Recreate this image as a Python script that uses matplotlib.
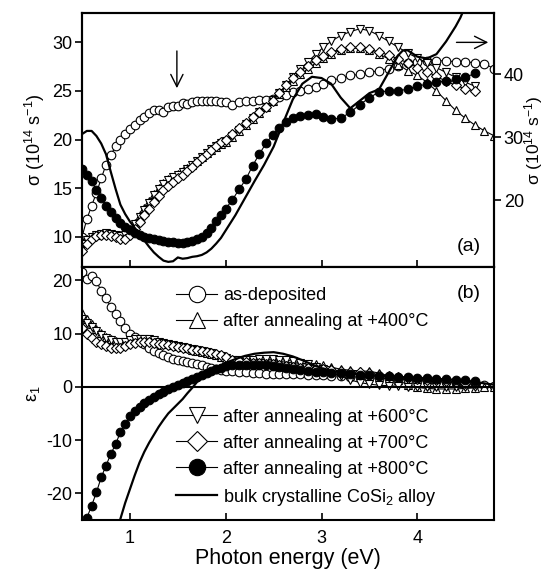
import matplotlib
matplotlib.use("Agg")
import matplotlib.pyplot as plt

plt.rcParams.update({
    "font.family": ["Liberation Sans", "DejaVu Sans"],
    "mathtext.fontset": "custom",
    "mathtext.rm": "Liberation Sans",
    "mathtext.it": "Liberation Sans:italic",
    "font.size": 13,
    "axes.linewidth": 1.5,
    "axes.unicode_minus": False,
})

# photon energy grid (eV) shared by the measured series
energy = [0.50, 0.55, 0.60, 0.65, 0.70, 0.75, 0.80, 0.85, 0.90, 0.95,
          1.00, 1.05, 1.10, 1.15, 1.20, 1.25, 1.30, 1.35, 1.40, 1.45,
          1.50, 1.55, 1.60, 1.65, 1.70, 1.75, 1.80, 1.85, 1.90, 1.95,
          2.00, 2.07, 2.14, 2.21, 2.28, 2.35, 2.42, 2.49, 2.56, 2.63,
          2.70, 2.78, 2.86, 2.94, 3.02, 3.1, 3.2, 3.3, 3.4, 3.5,
          3.6, 3.7, 3.8, 3.9, 4.0, 4.1, 4.2, 4.3, 4.4, 4.5,
          4.6, 4.7, 4.8]

# (a) optical conductivity, 10^14 s^-1
sig_asdep = [10.0, 11.8, 13.2, 14.5, 16.0, 17.4, 18.4, 19.3, 20.0, 20.6,
             21.1, 21.5, 22.0, 22.3, 22.7, 23.0, 23.0, 22.8, 23.3, 23.5,
             23.5, 23.8, 23.7, 23.9, 24.0, 24.0, 24.0, 24.0, 24.0, 23.9,
             23.9, 23.6, 23.9, 24.0, 24.0, 24.1, 24.1, 24.2, 24.4, 24.6,
             24.9, 25.0, 25.2, 25.4, 25.7, 26.1, 26.3, 26.6, 26.7, 26.9,
             27.1, 27.3, 27.6, 27.9, 28.0, 28.1, 28.1, 28.1, 28.0, 28.0,
             27.9, 27.8, 27.3]
sig_400 = [9.6, 9.8, 10.0, 10.2, 10.3, 10.3, 10.3, 10.2, 10.1, 10.3,
           10.8, 11.4, 12.2, 13.0, 13.7, 14.4, 15.0, 15.5, 15.9, 16.2,
           16.5, 16.8, 17.1, 17.4, 17.8, 18.2, 18.6, 18.9, 19.2, 19.5,
           19.8, 20.3, 20.9, 21.5, 22.1, 22.7, 23.3, 24.0, 24.7, 25.4,
           26.0, 26.7, 27.3, 27.9, 28.4, 28.8, 29.2, 29.4, 29.4, 29.2,
           28.8, 28.3, 27.7, 27.1, 26.6, 25.9, 25.0, 24.0, 23.0, 22.2,
           21.5, 20.9, 20.4]
sig_600 = [9.3, 9.7, 10.0, 10.2, 10.3, 10.4, 10.3, 10.2, 10.1, 10.2,
           10.7, 11.3, 12.0, 12.8, 13.5, 14.3, 14.9, 15.4, 15.8, 16.1,
           16.4, 16.7, 17.0, 17.4, 17.8, 18.2, 18.6, 19.0, 19.3, 19.6,
           19.9, 20.4, 21.0, 21.6, 22.2, 22.8, 23.4, 24.1, 24.8, 25.6,
           26.4, 27.3, 28.0, 28.8, 29.5, 30.1, 30.7, 31.1, 31.4, 31.2,
           30.7, 30.1, 29.5, 28.9, 28.4, 27.9, 27.4, 26.9, 26.4, 25.9,
           25.5]
sig_700 = [8.5, 9.3, 9.8, 10.1, 10.2, 10.2, 10.1, 10.0, 9.8, 9.8,
           10.2, 10.8, 11.5, 12.2, 12.9, 13.6, 14.2, 14.8, 15.2, 15.6,
           16.0, 16.4, 16.8, 17.2, 17.7, 18.1, 18.5, 18.9, 19.3, 19.7,
           20.0, 20.6, 21.2, 21.7, 22.3, 22.8, 23.4, 24.0, 24.8, 25.6,
           26.3, 27.0, 27.6, 28.2, 28.6, 29.0, 29.3, 29.5, 29.5, 29.3,
           29.0, 28.7, 28.3, 27.9, 27.4, 27.0, 26.5, 26.0, 25.6, 25.2,
           25.0]
sig_800 = [17.0, 16.4, 15.7, 14.8, 14.0, 13.2, 12.5, 11.9, 11.4, 11.0,
           10.7, 10.4, 10.2, 10.0, 9.9, 9.8, 9.7, 9.6, 9.5, 9.5,
           9.4, 9.4, 9.5, 9.6, 9.8, 10.0, 10.4, 10.9, 11.6, 12.2,
           12.9, 13.8, 14.9, 15.9, 17.3, 18.5, 19.6, 20.5, 21.2, 21.8,
           22.2, 22.4, 22.5, 22.6, 22.3, 22.1, 22.2, 22.8, 23.6, 24.3,
           24.9, 25.0, 25.0, 25.2, 25.5, 25.7, 25.9, 26.0, 26.2, 26.4,
           26.8]

# bulk CoSi2 conductivity (right axis)
bulk_e_sig = [0.50, 0.55, 0.60, 0.65, 0.70, 0.75, 0.80, 0.85, 0.90, 0.95,
              1.00, 1.05, 1.10, 1.15, 1.20, 1.25, 1.30, 1.35, 1.40, 1.45,
              1.50, 1.55, 1.60, 1.65, 1.70, 1.75, 1.80, 1.85, 1.90, 1.95,
              2.00, 2.10, 2.20, 2.30, 2.40, 2.50, 2.60, 2.70, 2.80, 2.90,
              3.00, 3.10, 3.20, 3.30, 3.40, 3.50, 3.60, 3.70, 3.80, 3.85,
              3.90, 4.00, 4.10, 4.20, 4.30, 4.40, 4.45, 4.50]
bulk_sig = [30.5, 31.0, 31.0, 30.2, 29.0, 27.3, 24.5, 21.8, 19.3, 17.8,
            16.6, 15.6, 14.6, 13.6, 12.6, 11.7, 11.0, 10.4, 10.2, 10.3,
            10.9, 10.7, 10.8, 11.0, 11.1, 11.3, 11.7, 12.3, 13.1, 14.0,
            15.2, 17.6, 20.3, 23.0, 25.6, 28.5, 32.3, 36.0, 38.5, 39.6,
            39.4, 38.5, 36.3, 34.6, 35.8, 37.0, 37.6, 40.3, 43.0, 43.8,
            43.8, 42.8, 42.5, 43.2, 45.2, 47.6, 49.0, 50.8]

# (b) real part of dielectric function
eps_asdep = [21.5, 20.3, 20.8, 19.8, 18.0, 16.6, 15.0, 13.6, 12.4, 11.0,
             10.0, 9.3, 8.6, 8.0, 7.3, 6.8, 6.3, 5.9, 5.6, 5.3,
             5.0, 4.8, 4.6, 4.4, 4.2, 4.0, 3.8, 3.6, 3.4, 3.2,
             3.0, 2.9, 2.8, 2.7, 2.6, 2.5, 2.4, 2.4, 2.4, 2.4,
             2.4, 2.4, 2.3, 2.3, 2.2, 2.1, 2.0, 1.9, 1.8, 1.7,
             1.6, 1.5, 1.4, 1.3, 1.2, 1.1, 1.0, 0.9, 0.8, 0.6,
             0.5, 0.3, 0.1]
eps_400 = [13.8, 12.8, 11.8, 10.9, 10.1, 9.4, 8.9, 8.6, 8.5, 8.5,
           8.6, 8.8, 8.9, 8.9, 8.8, 8.6, 8.4, 8.2, 8.0, 7.8,
           7.6, 7.4, 7.2, 7.0, 6.8, 6.6, 6.4, 6.2, 5.9, 5.6,
           5.3, 5.0, 4.9, 4.9, 5.0, 5.1, 5.1, 5.0, 4.8, 4.6,
           4.5, 4.4, 4.3, 4.2, 4.0, 3.7, 3.3, 3.1, 3.0, 2.9,
           2.6, 2.0, 1.2, 0.4, -0.1, -0.3, -0.4, -0.4, -0.4, -0.3,
           -0.2, -0.1, 0.0]
eps_600 = [12.8, 12.0, 11.2, 10.4, 9.7, 9.1, 8.7, 8.5, 8.4, 8.5,
           8.7, 8.9, 9.0, 9.0, 8.9, 8.7, 8.5, 8.3, 8.1, 7.9,
           7.7, 7.5, 7.3, 7.1, 6.9, 6.7, 6.5, 6.3, 6.0, 5.7,
           5.4, 5.1, 5.0, 5.0, 5.1, 5.2, 5.2, 5.2, 5.1, 5.0,
           4.8, 4.5, 4.2, 3.8, 3.3, 2.7, 2.0, 1.3, 0.8, 0.5,
           0.3, 0.2, 0.1, 0.0, 0.0, 0.0, 0.0, 0.0, 0.0, 0.0,
           0.0]
eps_700 = [11.0, 10.0, 9.2, 8.5, 8.0, 7.6, 7.3, 7.2, 7.3, 7.6,
           8.0, 8.3, 8.5, 8.5, 8.4, 8.3, 8.1, 8.0, 7.8, 7.6,
           7.5, 7.3, 7.2, 7.0, 6.9, 6.7, 6.5, 6.4, 6.2, 6.0,
           5.6, 5.1, 4.8, 4.6, 4.5, 4.4, 4.3, 4.2, 4.0, 3.9,
           3.8, 3.6, 3.5, 3.4, 3.3, 3.1, 3.0, 2.8, 2.7, 2.5,
           2.3, 2.1, 1.9, 1.7, 1.5, 1.3, 1.2, 1.0, 0.9, 0.8,
           0.7]
eps_800 = [-27.5, -24.6, -22.3, -19.8, -17.0, -14.8, -12.6, -10.8, -8.5, -6.9,
           -5.5, -4.5, -3.7, -3.0, -2.4, -1.9, -1.4, -0.9, -0.5, -0.1,
           0.3, 0.7, 1.1, 1.5, 1.9, 2.2, 2.6, 3.0, 3.3, 3.6,
           3.9, 4.0, 4.1, 4.1, 4.1, 4.1, 4.0, 3.9, 3.7, 3.5,
           3.3, 3.1, 2.9, 2.8, 2.7, 2.6, 2.5, 2.4, 2.3, 2.2,
           2.1, 2.0, 1.9, 1.8, 1.7, 1.6, 1.5, 1.4, 1.3, 1.2,
           1.1]

bulk_e_eps = [0.85, 0.90, 0.95, 1.00, 1.05, 1.10, 1.15, 1.20, 1.25, 1.30,
              1.35, 1.40, 1.45, 1.50, 1.55, 1.60, 1.65, 1.70, 1.80, 1.90,
              2.00, 2.10, 2.20, 2.30, 2.40, 2.50, 2.60, 2.70, 2.80, 2.90,
              3.00, 3.10, 3.20, 3.40, 3.60, 3.80, 4.00, 4.20, 4.40, 4.60,
              4.80]
bulk_eps = [-29.0, -24.8, -21.8, -19.2, -16.6, -14.2, -12.2, -10.5, -9.0, -7.5,
            -6.2, -5.0, -4.1, -3.2, -2.3, -1.2, -0.2, 0.9, 2.4, 3.6,
            4.5, 5.2, 5.8, 6.2, 6.4, 6.5, 6.2, 5.7, 5.0, 4.2,
            3.5, 3.0, 2.7, 2.3, 2.0, 1.8, 1.7, 1.5, 1.3, 0.9,
            0.4]

labels = ["as-deposited",
          "after annealing at +400°C",
          "after annealing at +600°C",
          "after annealing at +700°C",
          "after annealing at +800°C",
          "bulk crystalline CoSi$_2$ alloy"]

styles = [dict(marker="o", mfc="white"),
          dict(marker="^", mfc="white"),
          dict(marker="v", mfc="white"),
          dict(marker="D", mfc="white", ms=5.2),
          dict(marker="o", mfc="black")]

fig = plt.figure(figsize=(5.47, 5.74), dpi=100)
ax_a = fig.add_axes([0.150, 0.535, 0.753, 0.442])
ax_b = fig.add_axes([0.150, 0.094, 0.753, 0.441])


def series(ax, vals, st):
    kw = dict(color="black", lw=0.8, ms=6.2, mew=0.8, mec="black")
    kw.update(st)
    return ax.plot(energy[:len(vals)], vals, **kw)[0]


# ---- (a) conductivity ----
for vals, st in zip([sig_asdep, sig_400, sig_600, sig_700, sig_800], styles):
    series(ax_a, vals, st)

ax_r = ax_a.twinx()
ax_r.plot(bulk_e_sig, bulk_sig, color="black", lw=1.6)
ax_r.set_ylim(9.4, 49.7)
ax_r.set_yticks([20, 30, 40])
ax_r.set_ylabel("σ (10$^{14}$ s$^{-1}$)", labelpad=-1, fontsize=12.5)

ax_a.set_xlim(0.5, 4.8)
ax_a.set_ylim(6.9, 33)
ax_a.set_yticks([10, 15, 20, 25, 30])
ax_a.set_xticks([1, 2, 3, 4])
ax_a.set_xticklabels([])
ax_a.set_ylabel("σ (10$^{14}$ s$^{-1}$)", labelpad=4)
ax_a.annotate("", xy=(1.49, 25.0), xytext=(1.49, 29.4),
              arrowprops=dict(arrowstyle="->", color="black", lw=1.0, mutation_scale=22))
ax_a.annotate("", xy=(4.77, 30.0), xytext=(4.38, 30.0),
              arrowprops=dict(arrowstyle="->", color="black", lw=1.0, mutation_scale=22))
ax_a.text(0.968, 0.08, "(a)", transform=ax_a.transAxes, ha="right", va="center", fontsize=14)

# ---- (b) dielectric function ----
handles = []
for vals, st in zip([eps_asdep, eps_400, eps_600, eps_700, eps_800], styles):
    handles.append(series(ax_b, vals, st))
handles.append(ax_b.plot(bulk_e_eps, bulk_eps, color="black", lw=1.6)[0])
ax_b.axhline(0, color="black", lw=1.5)

ax_b.set_xlim(0.5, 4.8)
ax_b.set_ylim(-25, 22.5)
ax_b.set_xticks([1, 2, 3, 4])
ax_b.set_yticks([-20, -10, 0, 10, 20])
ax_b.set_xlabel("Photon energy (eV)", fontsize=15.5, labelpad=1)
ax_b.set_ylabel("ε$_1$", labelpad=3)
ax_b.text(0.968, 0.895, "(b)", transform=ax_b.transAxes, ha="right", va="center", fontsize=14)

leg_kw = dict(frameon=False, loc="upper left", borderpad=0, borderaxespad=0,
              handlelength=2.3, handletextpad=0.3, labelspacing=0.5,
              markerscale=1.9, fontsize=13)
leg1 = ax_b.legend(handles[:2], labels[:2], bbox_to_anchor=(0.228, 0.92), **leg_kw)
ax_b.add_artist(leg1)
ax_b.legend(handles[2:], labels[2:], bbox_to_anchor=(0.228, 0.44), **leg_kw)

for ax in (ax_a, ax_b):
    ax.tick_params(axis="x", direction="in", length=5, width=1.2, pad=7, labelsize=13)
    ax.tick_params(axis="y", direction="out", length=5, width=1.2, pad=2, labelsize=13)
ax_r.tick_params(axis="y", direction="out", length=5, width=1.2, pad=2, labelsize=13)

fig.savefig("out.png", dpi=100, facecolor="white")
